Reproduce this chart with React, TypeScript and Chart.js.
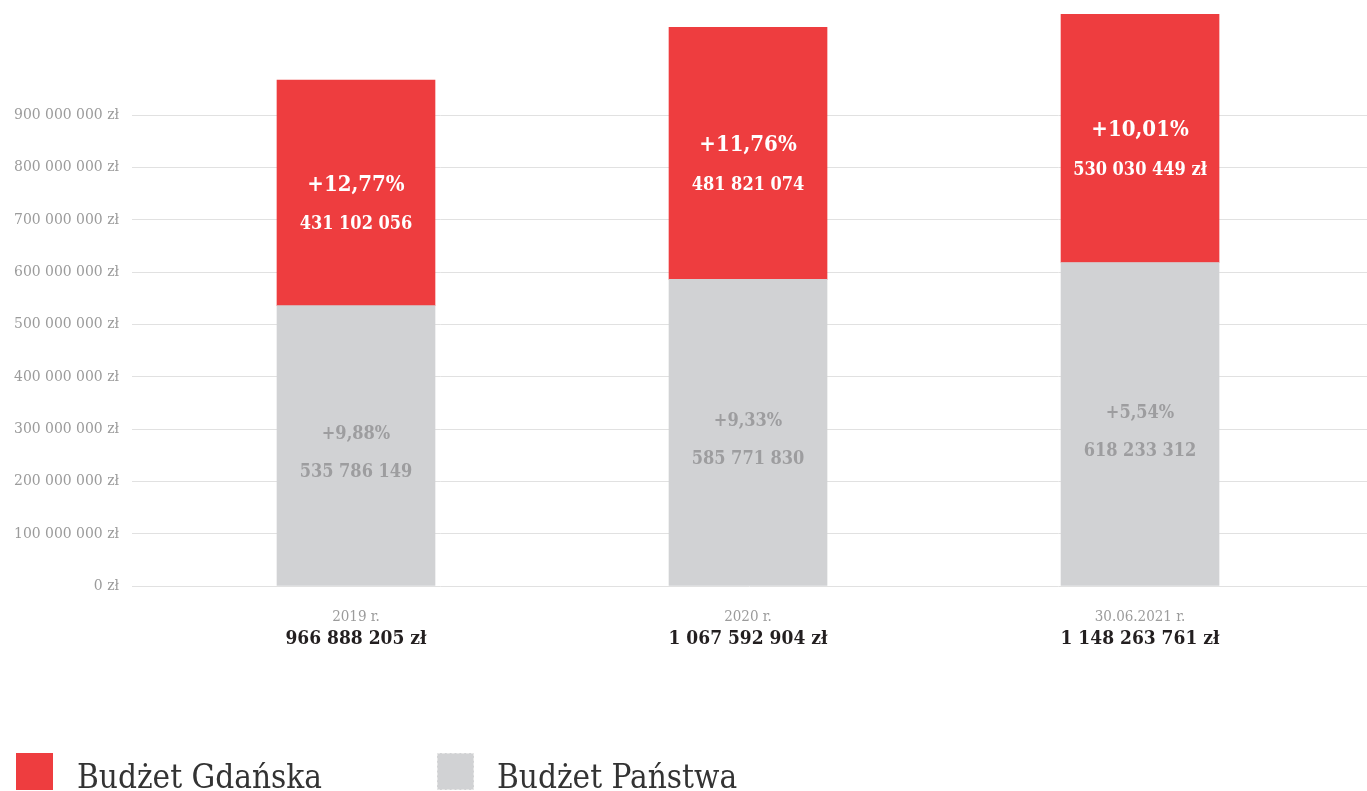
import React, { useEffect, useRef } from 'react';
import { Chart, registerables } from 'chart.js';

Chart.register(...registerables);

// ---- data ----
const categories = ['2019 r.', '2020 r.', '30.06.2021 r.'];
const seriesNames = ['Budżet Gdańska', 'Budżet Państwa'];
const budzetPanstwa = [535786149, 585771830, 618233312];
const budzetGdanska = [431102056, 481821074, 530030449];
const wzrostPanstwa = [9.88, 9.33, 5.54];
const wzrostGdanska = [12.77, 11.76, 10.01];
const gdanskaSuffix = ['', '', ' zł'];
const yTickValues = [0, 100000000, 200000000, 300000000, 400000000, 500000000, 600000000, 700000000, 800000000, 900000000];

// ---- style ----
const FONT = "'DejaVu Serif Condensed', 'DejaVu Serif', serif";
const RED = '#ee3d3f';
const GRAY = '#d1d2d4';
const TICK_GRAY = '#9b9b9b';

const fmt = (n: number) => Math.round(n).toString().replace(/\B(?=(\d{3})+(?!\d))/g, ' ');
const pct = (p: number) => '+' + p.toFixed(2).replace('.', ',') + '%';
const totals = budzetPanstwa.map((v, i) => v + budzetGdanska[i]);

const X_MIN = -0.5714;
const X_MAX = 2.579;

const barLabels = {
  id: 'barLabels',
  afterDatasetsDraw(chart: any) {
    const ctx = chart.ctx;
    const area = chart.chartArea;
    const specs = [
      { ds: 0, pcts: wzrostPanstwa, vals: budzetPanstwa, suffix: ['', '', ''], color: '#9d9d9f', pf: 18, vf: 18, gap: 38, shift: 8 },
      { ds: 1, pcts: wzrostGdanska, vals: budzetGdanska, suffix: gdanskaSuffix, color: '#ffffff', pf: 22, vf: 18, gap: 40, shift: 12 },
    ];
    ctx.save();
    ctx.textAlign = 'center';
    ctx.textBaseline = 'middle';
    specs.forEach((s) => {
      const meta = chart.getDatasetMeta(s.ds);
      meta.data.forEach((bar: any, i: number) => {
        const { x, y, base } = bar.getProps(['x', 'y', 'base'], true);
        const top = Math.max(Math.min(y, base), area.top);
        const bottom = Math.min(Math.max(y, base), area.bottom);
        const cy = (top + bottom) / 2 + s.shift;
        ctx.fillStyle = s.color;
        ctx.font = `bold ${s.pf}px ${FONT}`;
        ctx.fillText(pct(s.pcts[i]), x, cy - s.gap / 2);
        ctx.font = `bold ${s.vf}px ${FONT}`;
        ctx.fillText(fmt(s.vals[i]) + s.suffix[i], x, cy + s.gap / 2);
      });
    });
    ctx.restore();
  },
};

export default function App() {
  const ref = useRef<HTMLCanvasElement>(null);

  useEffect(() => {
    document.body.style.margin = '0';
    const canvas = ref.current;
    if (!canvas) return;
    const catTicks = (s: any) => {
      s.ticks = categories.map((_, i) => ({ value: i }));
    };
    const chart = new Chart(canvas, {
      type: 'bar',
      data: {
        datasets: [
          {
            label: seriesNames[1],
            data: budzetPanstwa.map((v, i) => ({ x: i, y: v })),
            backgroundColor: GRAY,
            barThickness: 158,
          },
          {
            label: seriesNames[0],
            data: budzetGdanska.map((v, i) => ({ x: i, y: v })),
            backgroundColor: RED,
            barThickness: 158,
          },
        ] as any,
      },
      options: {
        animation: false,
        responsive: false,
        devicePixelRatio: 1,
        layout: { padding: { top: 14, bottom: 135, left: 0, right: 0 } },
        plugins: { legend: { display: false }, tooltip: { enabled: false } },
        scales: {
          x: {
            type: 'linear',
            stacked: true,
            offset: false,
            min: X_MIN,
            max: X_MAX,
            position: 'bottom',
            grid: { display: false, drawTicks: false, offset: false },
            border: { display: false },
            afterBuildTicks: catTicks,
            afterFit: (s: any) => { s.height = 40; },
            ticks: {
              callback: (v: any) => categories[v],
              color: TICK_GRAY,
              font: { family: FONT, size: 15 },
              padding: 22,
              maxRotation: 0,
              autoSkip: false,
            },
          },
          x2: {
            type: 'linear',
            offset: false,
            min: X_MIN,
            max: X_MAX,
            position: 'bottom',
            grid: { display: false, drawTicks: false, offset: false },
            border: { display: false },
            afterBuildTicks: catTicks,
            afterFit: (s: any) => { s.height = 30; },
            ticks: {
              callback: (v: any) => fmt(totals[v]) + ' zł',
              color: '#231f20',
              font: { family: FONT, size: 19, weight: 'bold' },
              padding: 2,
              maxRotation: 0,
              autoSkip: false,
            },
          },
          y: {
            stacked: true,
            min: 0,
            max: 1093000000,
            afterBuildTicks: (s: any) => { s.ticks = yTickValues.map((v) => ({ value: v })); },
            afterFit: (s: any) => { s.width = 132; },
            grid: { color: '#e1e1e1', drawTicks: true, tickLength: 13, tickColor: 'rgba(0,0,0,0)', lineWidth: 1 },
            border: { display: false },
            ticks: {
              padding: 0,
              color: TICK_GRAY,
              font: { family: FONT, size: 15.5 },
              callback: (v: any) => fmt(Number(v)) + ' zł',
            },
          },
        } as any,
      },
      plugins: [barLabels],
    });
    return () => chart.destroy();
  }, []);

  const legendText: React.CSSProperties = {
    position: 'absolute',
    fontFamily: FONT,
    fontSize: 33,
    lineHeight: '37px',
    color: '#333333',
    whiteSpace: 'nowrap',
  };

  return (
    <div style={{ position: 'relative', width: 1367, height: 791, overflow: 'hidden', background: '#fff' }}>
      <canvas ref={ref} width={1367} height={791} style={{ display: 'block' }} />
      <div style={{ position: 'absolute', left: 16, top: 753, width: 37, height: 37, background: RED }} />
      <div style={{ ...legendText, left: 77, top: 758 }}>{seriesNames[0]}</div>
      <div style={{ position: 'absolute', left: 437, top: 753, width: 35, height: 35, background: GRAY, border: '1px dashed #e6e6e6' }} />
      <div style={{ ...legendText, left: 497, top: 758 }}>{seriesNames[1]}</div>
    </div>
  );
}
